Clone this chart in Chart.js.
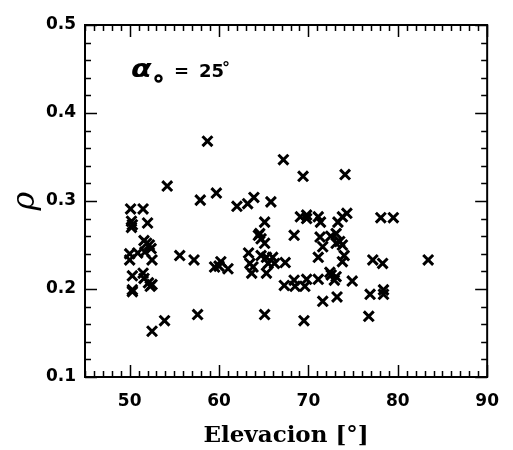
<!DOCTYPE html>
<html>
<head>
<meta charset="utf-8">
<script src="https://cdn.jsdelivr.net/npm/chart.js@4/dist/chart.umd.min.js"></script>
<style>
  html, body { margin: 0; padding: 0; background: #fff; }
  #wrap { width: 513px; height: 450px; }
</style>
</head>
<body>
<div id="wrap"><canvas id="plot" width="513" height="450"></canvas></div>
<script>
/* ==== data ========================================================= */
const elevation = [
  50.1, 51.5, 50.2, 50.3, 50.2, 52.0, 51.6, 52.2, 52.4, 51.9,
  50.0, 50.0, 50.9, 51.7, 52.5, 50.3, 51.5, 51.6, 50.3, 50.3,
  52.1, 52.5, 52.3, 52.5, 53.9, 54.2, 55.6, 57.2, 57.6, 57.9,
  58.7, 59.7, 59.5, 60.0, 60.2, 61.0, 62.0, 63.2, 63.9, 65.8,
  63.3, 63.45, 63.8, 63.65, 64.7, 65.3, 66.0, 65.5, 66.2, 65.3,
  64.4, 64.55, 64.7, 65.1, 65.1, 65.1, 67.2, 69.4, 74.1, 68.4,
  67.4, 67.3, 68.4, 68.5, 69.6, 69.8, 71.1, 69.5, 69.1, 69.8,
  69.8, 71.1, 71.35, 71.3, 72.5, 73.1, 73.1, 73.5, 73.8, 71.6,
  71.1, 73.3, 73.8, 74.3, 74.0, 73.8, 72.4, 72.55, 72.9, 73.1,
  74.9, 71.6, 73.2, 76.9, 76.75, 77.2, 78.3, 78.4, 78.4, 78.1,
  79.5, 83.4
];
const rho = [
  0.291, 0.291, 0.277, 0.273, 0.270, 0.275, 0.255, 0.250, 0.246, 0.252,
  0.240, 0.233, 0.241, 0.242, 0.233, 0.215, 0.218, 0.212, 0.199, 0.197,
  0.207, 0.205, 0.203, 0.152, 0.164, 0.317, 0.238, 0.233, 0.171, 0.301,
  0.368, 0.309, 0.225, 0.226, 0.231, 0.223, 0.294, 0.297, 0.304, 0.299,
  0.241, 0.229, 0.225, 0.218, 0.238, 0.236, 0.236, 0.229, 0.229, 0.218,
  0.261, 0.263, 0.257, 0.252, 0.276, 0.171, 0.347, 0.328, 0.330, 0.261,
  0.230, 0.204, 0.210, 0.203, 0.203, 0.211, 0.211, 0.164, 0.282, 0.284,
  0.280, 0.282, 0.276, 0.259, 0.260, 0.263, 0.252, 0.254, 0.250, 0.248,
  0.236, 0.276, 0.282, 0.286, 0.238, 0.231, 0.219, 0.216, 0.210, 0.214,
  0.209, 0.186, 0.191, 0.194, 0.169, 0.233, 0.229, 0.199, 0.194, 0.281,
  0.281, 0.233
];
const xTicks = [50, 60, 70, 80, 90];
const yTicks = [0.1, 0.2, 0.3, 0.4, 0.5];

const points = elevation.map((x, i) => ({ x, y: rho[i] }));

/* ==== frame, inward ticks, label =================================== */
const frame = {
  id: 'frame',
  afterDraw(chart) {
    const { ctx, chartArea: a, scales: { x, y } } = chart;
    ctx.save();
    ctx.strokeStyle = '#000';
    ctx.lineWidth = 1.5;
    ctx.beginPath();
    for (let v = 45; v <= 90; v++) {
      const px = Math.round(x.getPixelForValue(v)) + 0.5;
      const len = v % 10 === 0 ? 12 : 6;
      ctx.moveTo(px, a.bottom); ctx.lineTo(px, a.bottom - len);
      ctx.moveTo(px, a.top); ctx.lineTo(px, a.top + len);
    }
    for (let k = 5; k <= 25; k++) {
      const py = Math.round(y.getPixelForValue(k * 0.02)) + 0.5;
      const len = k % 5 === 0 ? 12 : 6;
      ctx.moveTo(a.left, py); ctx.lineTo(a.left + len, py);
      ctx.moveTo(a.right, py); ctx.lineTo(a.right - len, py);
    }
    ctx.stroke();
    ctx.lineWidth = 2;
    ctx.strokeRect(a.left, a.top, a.right - a.left, a.bottom - a.top);

    // alpha_o = 25 deg
    ctx.fillStyle = '#000';
    ctx.textBaseline = 'alphabetic';
    ctx.save();
    ctx.translate(131, 77);
    ctx.scale(1.2, 1);
    ctx.font = 'italic bold 25px "DejaVu Sans"';
    ctx.fillText('\u03B1', 0, 0);
    ctx.restore();
    ctx.beginPath();
    ctx.lineWidth = 2.4;
    ctx.arc(158.5, 78.5, 3, 0, Math.PI * 2);
    ctx.stroke();
    ctx.font = 'bold 18px "DejaVu Sans"';
    ctx.fillText('=', 174, 77);
    ctx.fillText('25', 199, 77);
    ctx.font = 'bold 16px "DejaVu Sans"';
    ctx.fillText('\u00B0', 222, 73);
    ctx.restore();
  }
};

/* ==== chart ======================================================== */
new Chart(document.getElementById('plot'), {
  type: 'scatter',
  data: {
    datasets: [{
      data: points,
      pointStyle: 'crossRot',
      pointRadius: 7,
      borderColor: '#000',
      borderWidth: 3,
      backgroundColor: '#000'
    }]
  },
  options: {
    responsive: false,
    animation: false,
    layout: { padding: { top: 25, right: 14, left: 0, bottom: 0 } },
    plugins: { legend: { display: false }, tooltip: { enabled: false } },
    scales: {
      x: {
        type: 'linear', min: 45, max: 90,
        afterBuildTicks: s => { s.ticks = xTicks.map(value => ({ value })); },
        afterFit: s => { s.height = 73; },
        grid: { display: false, drawTicks: false },
        border: { display: false },
        ticks: { color: '#000', padding: 14, maxRotation: 0, font: { family: 'DejaVu Sans', weight: 'bold', size: 17 } },
        title: {
          display: true, text: 'Elevacion [\u00B0]', color: '#000',
          font: { family: 'DejaVu Serif', weight: 'bold', size: 23 },
          padding: { top: 2, bottom: 0 }
        }
      },
      y: {
        type: 'linear', min: 0.1, max: 0.5,
        afterBuildTicks: s => { s.ticks = yTicks.map(value => ({ value })); },
        afterFit: s => { s.width = 85; },
        grid: { display: false, drawTicks: false },
        border: { display: false },
        ticks: { color: '#000', padding: 9, callback: v => v.toFixed(1), font: { family: 'DejaVu Sans', weight: 'bold', size: 17 } },
        title: {
          display: true, text: '\u03C1', color: '#000',
          font: { family: 'DejaVu Serif', style: 'italic', size: 32 },
          padding: { top: 6, bottom: 0 }
        }
      }
    }
  },
  plugins: [frame]
});
</script>
</body>
</html>
